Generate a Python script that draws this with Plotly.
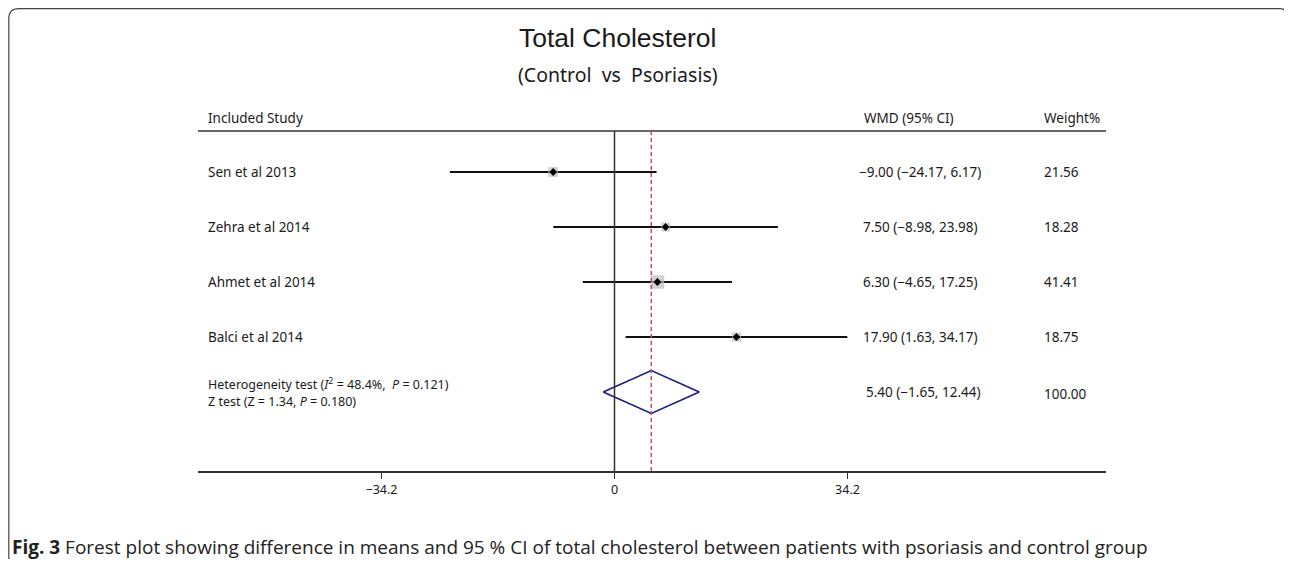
import plotly.graph_objects as go

# ---------------- data ----------------
studies = ["Sen et al 2013", "Zehra et al 2014", "Ahmet et al 2014", "Balci et al 2014"]
wmd = [-9.00, 7.50, 6.30, 17.90]
ci_low = [-24.17, -8.98, -4.65, 1.63]
ci_high = [6.17, 23.98, 17.25, 34.17]
weights = [21.56, 18.28, 41.41, 18.75]
wmd_text = ["\u22129.00 (\u221224.17, 6.17)", "7.50 (\u22128.98, 23.98)",
            "6.30 (\u22124.65, 17.25)", "17.90 (1.63, 34.17)"]
weight_text = ["21.56", "18.28", "41.41", "18.75"]

pooled = 5.40
pooled_low = -1.65
pooled_high = 12.44
pooled_text = "5.40 (\u22121.65, 12.44)"
pooled_weight = "100.00"

tick_vals = [-34.2, 0, 34.2]
tick_text = ["\u221234.2", "0", "34.2"]

# ---------------- layout helpers (screen pixels; page has 8px body margin) ----------------
OFF = 8
W, H = 1292 - OFF, 567 - 2 * OFF
PLOT_BOTTOM = 471          # screen y of x-axis line
PLOT_TOP = OFF
X0_PIX, SCALE = 614.5, 6.813
DOM_L, DOM_R = 198, 1106
ROW0, ROW_STEP = 172, 55

def px(p):   # screen x -> paper
    return (p - OFF) / W

def py(p):   # screen y -> paper
    return (PLOT_BOTTOM - p) / (PLOT_BOTTOM - PLOT_TOP)

xr = [(DOM_L - X0_PIX) / SCALE, (DOM_R - X0_PIX) / SCALE]
yr = [(PLOT_BOTTOM - ROW0) / ROW_STEP, (PLOT_TOP - ROW0) / ROW_STEP]
header_row = (131 - ROW0) / ROW_STEP
axis_row = yr[0]
n = len(studies)
pooled_row = n

FONT = "Noto Sans, Open Sans, sans-serif"
LBL = 13.5

fig = go.Figure()

# CI lines
xs, ys = [], []
for i in range(n):
    xs += [ci_low[i], ci_high[i], None]
    ys += [i, i, None]
fig.add_trace(go.Scatter(x=xs, y=ys, mode="lines",
                         line=dict(color="#111111", width=2), hoverinfo="skip",
                         showlegend=False))
# weight squares
fig.add_trace(go.Scatter(x=wmd, y=list(range(n)), mode="markers",
                         marker=dict(symbol="square", color="#bdbdbd",
                                     size=[2.1 * w ** 0.5 for w in weights],
                                     line=dict(width=0)),
                         showlegend=False))
# point estimates
fig.add_trace(go.Scatter(x=wmd, y=list(range(n)), mode="markers",
                         marker=dict(symbol="diamond", color="#000000", size=6),
                         showlegend=False))
# pooled diamond
h = 0.39
fig.add_trace(go.Scatter(x=[pooled_low, pooled, pooled_high, pooled, pooled_low],
                         y=[pooled_row, pooled_row - h, pooled_row, pooled_row + h, pooled_row],
                         mode="lines", line=dict(color="#1a1a80", width=1.6),
                         showlegend=False))

shapes = []
# header line
shapes.append(dict(type="line", xref="paper", yref="paper",
                   x0=px(DOM_L), x1=px(DOM_R), y0=py(131), y1=py(131),
                   line=dict(color="#333333", width=1.5)))
# null line
shapes.append(dict(type="line", xref="x", yref="y", x0=0, x1=0,
                   y0=header_row, y1=axis_row, line=dict(color="#333333", width=1.5)))
# pooled dashed line
shapes.append(dict(type="line", xref="x", yref="y", x0=pooled, x1=pooled,
                   y0=header_row, y1=axis_row,
                   line=dict(color="#c0505a", width=1.5, dash="4px,3px")))
# frame with rounded top corners
rx, ry = 10 / W, 10 / (PLOT_BOTTOM - PLOT_TOP)
L, R, T, B = px(8.8), px(1289), py(8.6), py(566)
path = (f"M {L},{B} L {L},{T - ry} Q {L},{T} {L + rx},{T} "
        f"L {R - rx},{T} Q {R},{T} {R},{T - ry} L {R},{B}")
shapes.append(dict(type="path", xref="paper", yref="paper", path=path,
                   line=dict(color="#444444", width=1.2)))

ann = []
def text(x, y, s, size=LBL, anchor="left", font=FONT, color="#1a1a1a"):
    ann.append(dict(x=px(x), y=py(y), xref="paper", yref="paper", text=s,
                    showarrow=False, xanchor=anchor, yanchor="middle",
                    font=dict(family=font, size=size, color=color)))

text(617, 38, "Total Cholesterol", size=26.5,
     anchor="center", font="Liberation Sans Narrow, Arial Narrow, Liberation Sans, sans-serif")
text(618, 75, "(Control  vs  Psoriasis)", size=19.5, anchor="center")
text(206, 118, "Included Study")
text(862, 118, "WMD (95% CI)")
text(1042, 118, "Weight%")
for i in range(n):
    yy = ROW0 + ROW_STEP * i
    text(206, yy, studies[i])
    text(920, yy, wmd_text[i], anchor="center")
    text(1042, yy, weight_text[i])
yp = ROW0 + ROW_STEP * pooled_row
text(206, 384, "Heterogeneity test (<i>I</i><sup>2</sup> = 48.4%,  <i>P</i> = 0.121)", size=12.5)
text(206, 401, "Z test (Z = 1.34, <i>P</i> = 0.180)", size=12.5)
text(923, yp, pooled_text, anchor="center")
text(1042, yp + 2, pooled_weight)
text(10, 547, "<b>Fig. 3</b> Forest plot showing difference in means and 95 % CI of total "
     "cholesterol between patients with psoriasis and control group", size=19,
     font="Open Sans, Noto Sans, sans-serif", color="#222222")

fig.update_layout(
    width=W, height=H, margin=dict(l=0, r=0, t=0, b=H - (PLOT_BOTTOM - OFF), pad=0),
    paper_bgcolor="white", plot_bgcolor="white", shapes=shapes, annotations=ann,
    showlegend=False,
    xaxis=dict(domain=[px(DOM_L), px(DOM_R)], range=xr, showgrid=False, zeroline=False,
               showline=True, linecolor="#333333", linewidth=1.5,
               ticks="outside", ticklen=6, tickcolor="#333333", tickwidth=1.2,
               tickvals=tick_vals, ticktext=tick_text,
               tickfont=dict(family=FONT, size=12.5, color="#1a1a1a")),
    yaxis=dict(range=yr, showgrid=False, zeroline=False, showline=False,
               showticklabels=False, ticks=""),
)
fig.write_html("out.html")
